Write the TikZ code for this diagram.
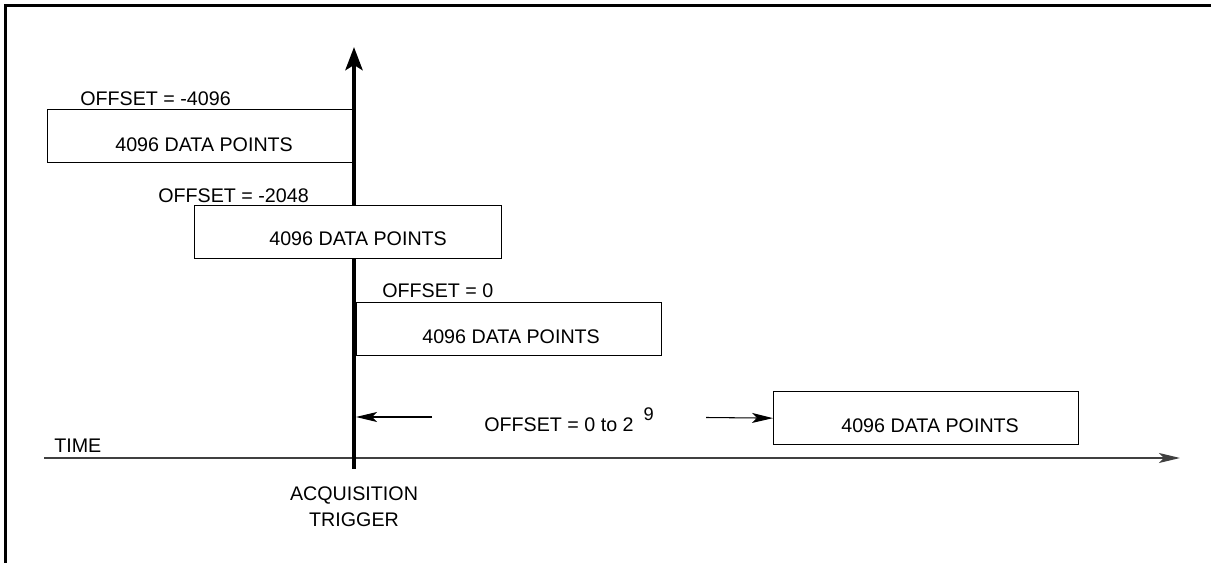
\documentclass[tikz,border=0pt]{standalone}
\usepackage{fontspec}
\setmainfont{Liberation Sans}
\usetikzlibrary{arrows.meta}

\begin{document}
\begin{tikzpicture}[x=0.02cm, y=-0.02cm, font=\fontsize{11.2}{13.4}\selectfont,
  databox/.style={draw, fill=white, line width=0.75pt, minimum width=6.1cm,
    minimum height=1.06cm, inner sep=0pt, anchor=north west},
  lbl/.style={inner sep=0pt, anchor=base west},
  thinarrow/.style={-{Stealth[length=0.42cm, width=0.2cm, inset=0.1cm]}, line width=0.6pt}]
\useasboundingbox (0,0) rectangle (1211,563);
% frame
\draw[line width=1.7pt] (5.5,563) -- (5.5,5.5) -- (1211,5.5);

% time axis
\coordinate (t0) at (44,458);
\coordinate (t1) at (1180,458);
\draw[thinarrow, draw=black!75, fill=black, line width=0.75pt] (t0) -- (t1);
\node[lbl] (time) at (54,453) {TIME};

% acquisition trigger
\coordinate (trigbot) at (354,469);
\coordinate (trigtop) at (354,47);
\draw[line width=2.8pt, -{Stealth[length=0.46cm, width=0.34cm, inset=0.1cm]}] (trigbot) -- (trigtop);
\node[inner sep=0pt, anchor=base] (acq) at (354,501) {ACQUISITION};
\node[inner sep=0pt, anchor=base] (trg) at (354,527) {TRIGGER};

% data windows
\node[databox] (box1) at (47,109) {};
\node[databox, minimum width=6.14cm] (box2) at (194,205) {};
\node[databox] (box3) at (356,302) {};
\node[databox] (box4) at (773,391) {};

\node[lbl] (off1) at (80,106) {OFFSET = -4096};
\node[lbl] (dp1) at (115,152) {4096 DATA POINTS};
\node[lbl] (off2) at (158,203) {OFFSET = -2048};
\node[lbl] (dp2) at (269,246) {4096 DATA POINTS};
\node[lbl] (off3) at (382,298) {OFFSET = 0};
\node[lbl] (dp3) at (422,344) {4096 DATA POINTS};
\node[lbl] (dp4) at (841,433) {4096 DATA POINTS};
\node[lbl] (off4) at (484,432) {OFFSET = 0 to 2\hspace{0.2cm}\raisebox{0.22cm}{\fontsize{10.4}{11}\selectfont 9}};

% offset range
\coordinate (ar1) at (432,417);
\coordinate (trigr) at (356,417);
\coordinate (ar2) at (706,417.5);
\draw[thinarrow] (ar1) -- (trigr);
\draw[thinarrow] (ar2) -- (box4.west);
\end{tikzpicture}
\end{document}
